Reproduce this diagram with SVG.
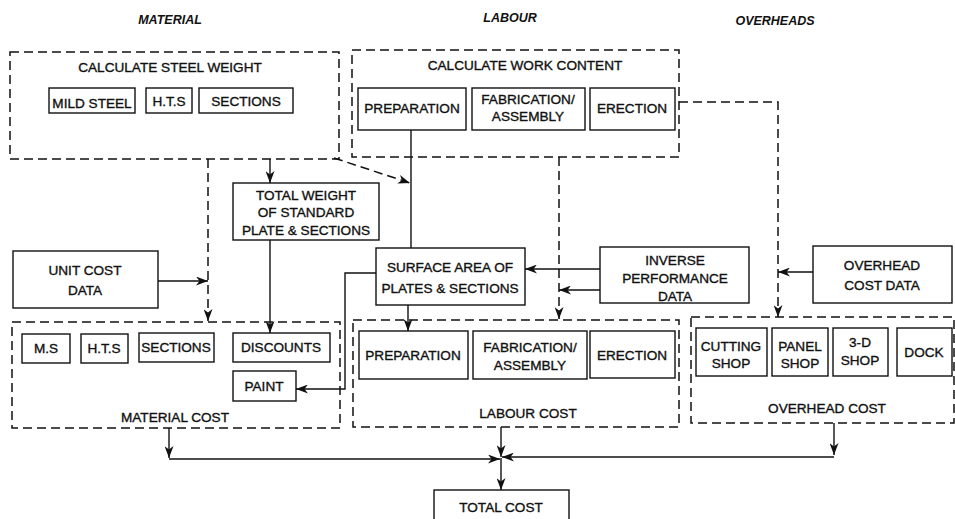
<svg xmlns="http://www.w3.org/2000/svg" width="955" height="519" viewBox="0 0 955 519">
  <defs>
    <marker id="arr" viewBox="0 0 12 9" refX="12" refY="4.5" markerWidth="12" markerHeight="9" markerUnits="userSpaceOnUse" orient="auto">
      <path d="M0,0 L12,4.5 L0,9 L3.5,4.5 Z" fill="#111"/>
    </marker>
    <style>
      .grp { fill: none; stroke: #111; stroke-width: 1.5; stroke-dasharray: 9 5; }
      .box { fill: #fff; stroke: #111; stroke-width: 1.4; }
      .t { font-family: "Liberation Sans", Arial, sans-serif; font-size: 13.6px; fill: #111; stroke: #111; stroke-width: 0.35; text-anchor: middle; }
      .h { font-family: "Liberation Sans", Arial, sans-serif; font-size: 12.5px; font-style: italic; font-weight: bold; fill: #111; text-anchor: middle; }
      .ln { fill: none; stroke: #111; stroke-width: 1.4; }
      .dl { fill: none; stroke: #111; stroke-width: 1.5; stroke-dasharray: 9 5; }
    </style>
  </defs>
  <rect width="955" height="519" fill="#fff"/>

  <!-- column headings -->
  <g id="headings">
    <text class="h" x="170" y="24">MATERIAL</text>
    <text class="h" x="510" y="22">LABOUR</text>
    <text class="h" x="775" y="25">OVERHEADS</text>
  </g>

  <!-- steel weight calculation -->
  <g id="steel-weight">
    <rect class="grp" x="10" y="52" width="329" height="107"/>
    <text class="t" x="170" y="72">CALCULATE STEEL WEIGHT</text>
    <rect class="box" x="49" y="88" width="86" height="25"/>
    <text class="t" x="92" y="108">MILD STEEL</text>
    <rect class="box" x="146" y="88" width="46" height="25"/>
    <text class="t" x="169" y="106">H.T.S</text>
    <rect class="box" x="199" y="88" width="94" height="25"/>
    <text class="t" x="246" y="106">SECTIONS</text>
  </g>

  <!-- work content calculation -->
  <g id="work-content">
    <rect class="grp" x="352" y="50" width="327" height="107"/>
    <text class="t" x="525" y="70">CALCULATE WORK CONTENT</text>
    <rect class="box" x="358" y="88" width="108" height="42"/>
    <text class="t" x="412" y="113">PREPARATION</text>
    <rect class="box" x="472" y="88" width="113" height="42"/>
    <text class="t" x="528" y="104">FABRICATION/</text>
    <text class="t" x="528" y="121">ASSEMBLY</text>
    <rect class="box" x="590" y="88" width="85" height="42"/>
    <text class="t" x="632" y="113">ERECTION</text>
  </g>

  <g id="total-weight">
    <rect class="box" x="233" y="183" width="146" height="57"/>
    <text class="t" x="306" y="200">TOTAL WEIGHT</text>
    <text class="t" x="306" y="217">OF STANDARD</text>
    <text class="t" x="306" y="235">PLATE &amp; SECTIONS</text>
  </g>

  <g id="unit-cost">
    <rect class="box" x="13" y="251" width="145" height="57"/>
    <text class="t" x="85" y="275">UNIT COST</text>
    <text class="t" x="85" y="295">DATA</text>
  </g>

  <g id="surface-area">
    <rect class="box" x="376" y="248" width="149" height="57"/>
    <text class="t" x="450" y="272">SURFACE AREA OF</text>
    <text class="t" x="450" y="293">PLATES &amp; SECTIONS</text>
  </g>

  <g id="inverse-performance">
    <rect class="box" x="600" y="247" width="149" height="56"/>
    <text class="t" x="675" y="265">INVERSE</text>
    <text class="t" x="675" y="283">PERFORMANCE</text>
    <text class="t" x="675" y="301">DATA</text>
  </g>

  <g id="overhead-data">
    <rect class="box" x="813" y="246" width="139" height="57"/>
    <text class="t" x="882" y="270">OVERHEAD</text>
    <text class="t" x="882" y="290">COST DATA</text>
  </g>

  <!-- material cost -->
  <g id="material-cost">
    <rect class="grp" x="12" y="322" width="328" height="106"/>
    <rect class="box" x="22" y="334" width="48" height="29"/>
    <text class="t" x="46" y="353">M.S</text>
    <rect class="box" x="81" y="334" width="47" height="29"/>
    <text class="t" x="104" y="353">H.T.S</text>
    <rect class="box" x="139" y="333" width="75" height="29"/>
    <text class="t" x="176" y="352">SECTIONS</text>
    <rect class="box" x="233" y="333" width="97" height="29"/>
    <text class="t" x="281" y="352">DISCOUNTS</text>
    <rect class="box" x="233" y="371" width="63" height="30"/>
    <text class="t" x="264" y="391">PAINT</text>
    <text class="t" x="175" y="422">MATERIAL COST</text>
  </g>

  <!-- labour cost -->
  <g id="labour-cost">
    <rect class="grp" x="353" y="320" width="326" height="107"/>
    <rect class="box" x="359" y="331" width="109" height="48"/>
    <text class="t" x="413" y="360">PREPARATION</text>
    <rect class="box" x="473" y="331" width="114" height="48"/>
    <text class="t" x="530" y="352">FABRICATION/</text>
    <text class="t" x="530" y="370">ASSEMBLY</text>
    <rect class="box" x="590" y="331" width="85" height="47"/>
    <text class="t" x="632" y="360">ERECTION</text>
    <text class="t" x="528" y="418">LABOUR COST</text>
  </g>

  <!-- overhead cost -->
  <g id="overhead-cost">
    <rect class="grp" x="691" y="317" width="263" height="106"/>
    <rect class="box" x="696" y="328" width="71" height="48"/>
    <text class="t" x="731" y="351">CUTTING</text>
    <text class="t" x="731" y="368">SHOP</text>
    <rect class="box" x="772" y="328" width="56" height="48"/>
    <text class="t" x="800" y="351">PANEL</text>
    <text class="t" x="800" y="368">SHOP</text>
    <rect class="box" x="833" y="328" width="55" height="48"/>
    <text class="t" x="860" y="347">3-D</text>
    <text class="t" x="860" y="365">SHOP</text>
    <rect class="box" x="897" y="328" width="55" height="48"/>
    <text class="t" x="924" y="357">DOCK</text>
    <text class="t" x="827" y="413">OVERHEAD COST</text>
  </g>

  <g id="total-cost">
    <rect class="box" x="434" y="490" width="135" height="40"/>
    <text class="t" x="501" y="512">TOTAL COST</text>
  </g>

  <!-- connectors -->
  <g id="connectors">
    <path class="ln" d="M270,159 V183" marker-end="url(#arr)"/>
    <path class="dl" d="M208,159 V321" marker-end="url(#arr)"/>
    <path class="ln" d="M158,281 H208" marker-end="url(#arr)"/>
    <path class="ln" d="M270,240 V333" marker-end="url(#arr)"/>
    <path class="dl" d="M334,158 L410,183" marker-end="url(#arr)"/>
    <path class="ln" d="M411,130 V248"/>
    <path class="ln" d="M376,273 H345 V389 H296" marker-end="url(#arr)"/>
    <path class="ln" d="M408,305 V331" marker-end="url(#arr)"/>
    <path class="dl" d="M559,157 V319" marker-end="url(#arr)"/>
    <path class="ln" d="M600,269 H525" marker-end="url(#arr)"/>
    <path class="ln" d="M600,290 H559" marker-end="url(#arr)"/>
    <path class="dl" d="M679,102 H778 V317" marker-end="url(#arr)"/>
    <path class="ln" d="M813,272 H778" marker-end="url(#arr)"/>
    <path class="ln" d="M169,428 V458" marker-end="url(#arr)"/>
    <path class="ln" d="M169,459 H500" marker-end="url(#arr)"/>
    <path class="ln" d="M501,427 V457" marker-end="url(#arr)"/>
    <path class="ln" d="M834,423 V455" marker-end="url(#arr)"/>
    <path class="ln" d="M834,457 H502" marker-end="url(#arr)"/>
    <path class="ln" d="M501,458 V490" marker-end="url(#arr)"/>
  </g>
</svg>
